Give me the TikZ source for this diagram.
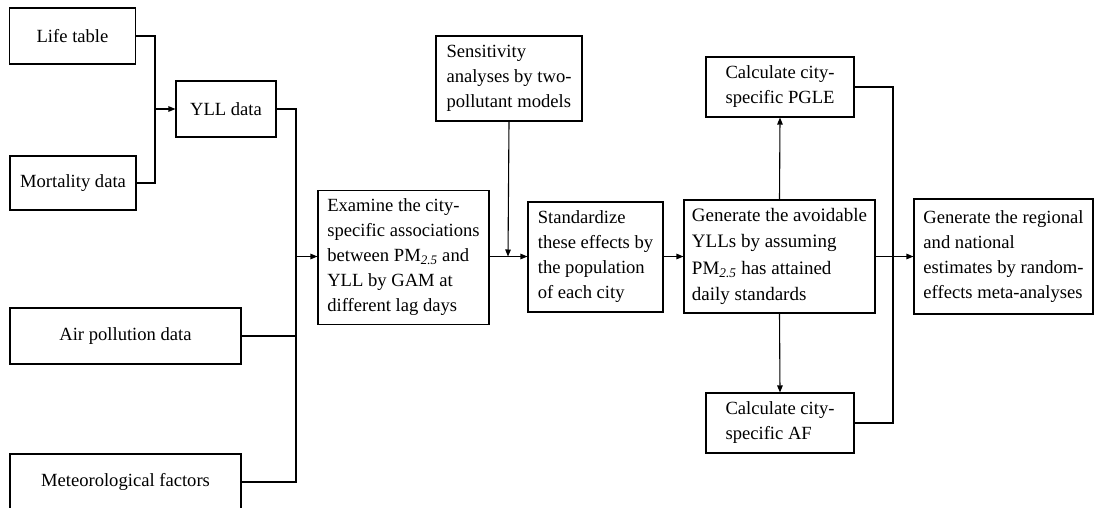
\documentclass[tikz,border=0pt]{standalone}
\usepackage{fontspec}
\setmainfont{Liberation Serif}
\usetikzlibrary{arrows.meta}
\begin{document}
\begin{tikzpicture}[x=1pt,y=-1pt,
  box/.style={draw, line width=1.1pt, inner sep=0pt, align=left,
    font=\fontsize{18.6}{25}\selectfont},
  cbox/.style={box, align=center},
  conn/.style={line width=1.1pt},
  arr/.style={conn, -{Triangle[length=7pt,width=5.5pt]}}]
\useasboundingbox[fill=white] (0,0) rectangle (1094,508);
\newcommand{\pmtf}{PM\textsubscript{\textit{2.5}}}
% left inputs
\node[cbox, minimum width=126, minimum height=56] (life) at (72.5,36) {Life table};
\node[cbox, minimum width=126, minimum height=54] (mort) at (73,183) {Mortality data};
\node[cbox, minimum width=100, minimum height=56] (yll) at (226,109) {YLL data};
\node[cbox, minimum width=231, minimum height=56] (air) at (125.5,336) {Air pollution data};
\node[cbox, minimum width=231, minimum height=56] (met) at (125.5,482) {Meteorological factors};
% middle
\node[box, minimum width=171, minimum height=134] (exam) at (403.5,257.5)
  {Examine the city-\\specific associations\\between \pmtf{} and\\YLL by GAM at\\different lag days};
\node[box, minimum width=146, minimum height=85] (sens) at (509,78.5)
  {Sensitivity\\analyses by two-\\pollutant models};
\node[box, minimum width=135, minimum height=110] (std) at (595.5,257)
  {Standardize\\these effects by\\the population\\of each city};
\node[box, minimum width=191, minimum height=113, font=\fontsize{19}{26.5}\selectfont] (gen) at (779.5,256.5)
  {Generate the avoidable\\YLLs by assuming\\\pmtf{} has attained\\daily standards};
\node[box, minimum width=148, minimum height=60] (pgle) at (780,87)
  {Calculate city-\\specific PGLE};
\node[box, minimum width=148, minimum height=60] (af) at (780,423)
  {Calculate city-\\specific AF};
\node[box, minimum width=179, minimum height=115] (fin) at (1003.5,256.5)
  {Generate the regional\\and national\\estimates by random-\\effects meta-analyses};
% junctions
\coordinate (j1) at (155,109);
\coordinate (j2) at (296,256.5);
\coordinate (j3) at (508,256.5);
\coordinate (j4) at (893,256.5);
% connectors
\draw[conn] (life.east) -| (j1);
\draw[conn] (mort.east) -| (j1);
\draw[arr] (j1) -- (yll.west);
\draw[conn] (yll.east) -| (j2);
\draw[conn] (air.east) -| (j2);
\draw[conn] (met.east) -| (j2);
\draw[arr] (j2) -- (exam.west |- j2);
\draw[arr] (exam.east |- j3) -- (std.west |- j3);
\draw[arr] (sens.south) -- (j3);
\draw[arr] (std.east |- j3) -- (gen.west |- j3);
\draw[arr] (gen.north) -- (pgle.south);
\draw[arr] (gen.south) -- (af.north);
\draw[conn] (pgle.east) -| (j4);
\draw[conn] (af.east) -| (j4);
\draw[arr] (gen.east |- j4) -- (fin.west |- j4);
\end{tikzpicture}
\end{document}
